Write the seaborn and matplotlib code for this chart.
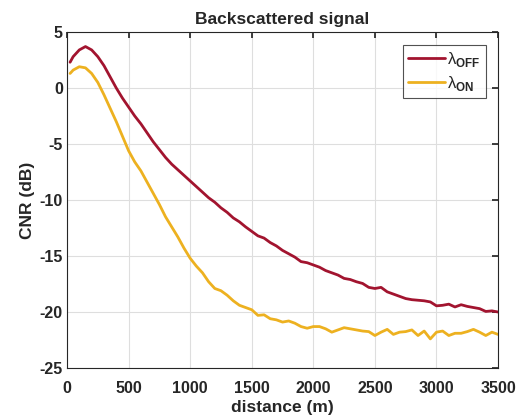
import numpy as np
import pandas as pd
import seaborn as sns
import matplotlib.pyplot as plt

distance = [25] + list(range(50, 3501, 50))

cnr_off = [2.3, 2.8, 3.4, 3.7, 3.4, 2.8, 2.0, 1.0, 0.0, -0.9, -1.7,
           -2.5, -3.2, -4.0, -4.8, -5.5, -6.2, -6.8, -7.3, -7.8, -8.3,
           -8.8, -9.3, -9.8, -10.2, -10.7, -11.1, -11.6, -11.95, -12.4, -12.8,
           -13.2, -13.4, -13.8, -14.1, -14.5, -14.8, -15.1, -15.5, -15.6, -15.8,
           -16.0, -16.3, -16.5, -16.7, -17.0, -17.1, -17.3, -17.45, -17.8, -17.9,
           -17.8, -18.2, -18.4, -18.6, -18.8, -18.9, -18.95, -19.0, -19.1, -19.45,
           -19.4, -19.3, -19.55, -19.35, -19.5, -19.6, -19.7, -19.95, -19.9, -20.0]

cnr_on = [1.3, 1.6, 1.9, 1.8, 1.3, 0.5, -0.6, -1.8, -3.0, -4.3, -5.6,
          -6.6, -7.4, -8.4, -9.4, -10.4, -11.5, -12.4, -13.3, -14.3, -15.2,
          -15.9, -16.5, -17.3, -17.9, -18.1, -18.5, -19.0, -19.4, -19.6, -19.8,
          -20.3, -20.25, -20.6, -20.7, -20.9, -20.8, -21.0, -21.3, -21.45, -21.3,
          -21.3, -21.5, -21.8, -21.6, -21.4, -21.5, -21.6, -21.7, -21.75, -22.1,
          -21.8, -21.55, -22.0, -21.8, -21.75, -21.6, -22.1, -21.7, -22.4, -21.8,
          -21.7, -22.1, -21.9, -21.9, -21.75, -21.55, -21.8, -22.1, -21.8, -22.0]

labels = [r'λ$_{\mathbf{OFF}}$', r'λ$_{\mathbf{ON}}$']
colors = ['#A2142F', '#EDB120']

df = pd.DataFrame({
    'distance': distance * 2,
    'cnr': cnr_off + cnr_on,
    'line': [labels[0]] * len(distance) + [labels[1]] * len(distance),
})

sns.set_theme(style='whitegrid')
plt.rcParams['font.family'] = ['Liberation Sans', 'DejaVu Sans']
plt.rcParams['axes.unicode_minus'] = False
plt.rcParams['mathtext.fontset'] = 'custom'
plt.rcParams['mathtext.bf'] = 'Liberation Sans:bold'
plt.rcParams['mathtext.rm'] = 'Liberation Sans'

fig = plt.figure(figsize=(5.21, 4.2), dpi=100)
ax = fig.add_axes([0.1286, 0.1238, 0.8274, 0.8])

sns.lineplot(data=df, x='distance', y='cnr', hue='line', palette=colors,
             linewidth=2, ax=ax)

ax.set_xlim(0, 3500)
ax.set_ylim(-25, 5)
ax.set_xticks(range(0, 3501, 500))
ax.set_yticks(range(-25, 6, 5))
ax.tick_params(direction='in', length=4, top=True, right=True,
               labelsize=11.5, colors='#262626', pad=3)
ax.tick_params(axis='x', pad=9)
for t in ax.get_xticklabels() + ax.get_yticklabels():
    t.set_fontweight('bold')
ax.grid(True, color='#dedede', linewidth=0.8)
for s in ax.spines.values():
    s.set_color('#262626')
    s.set_linewidth(0.8)
ax.set_facecolor('white')

ax.set_xlabel('distance (m)', fontsize=12.5, fontweight='bold', labelpad=3)
ax.set_ylabel('CNR (dB)', fontsize=12.5, fontweight='bold', labelpad=3)
ax.set_title('Backscattered signal', fontsize=12.5, fontweight='bold', pad=6)

leg = ax.legend(loc='upper right', fontsize=12, frameon=True, fancybox=False,
                handlelength=2.2, handletextpad=0.15, borderpad=0.3,
                labelspacing=0.3, borderaxespad=0.75)
leg.get_frame().set_edgecolor('#262626')
leg.get_frame().set_linewidth(0.8)
leg.set_title(None)

fig.savefig('out.png', dpi=100)
